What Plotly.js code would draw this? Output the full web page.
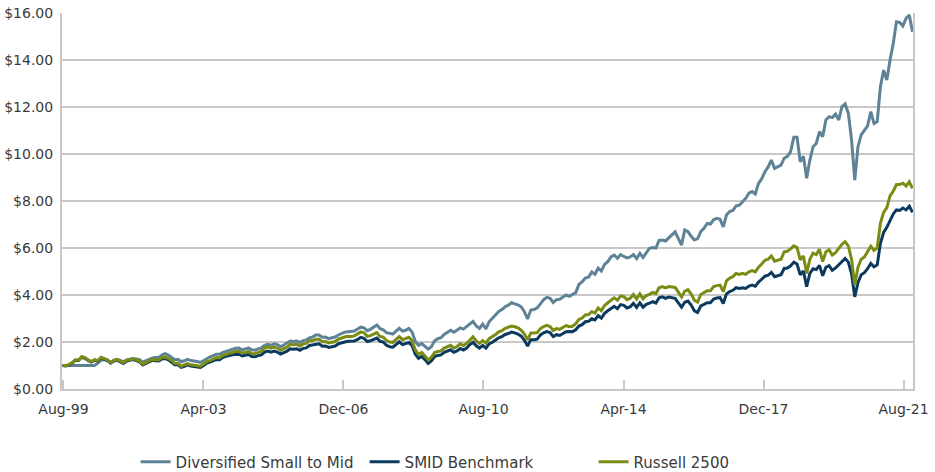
<!DOCTYPE html>
<html>
<head>
<meta charset="utf-8">
<script src="https://cdn.plot.ly/plotly-3.0.1.min.js"></script>
<style>
  html, body { margin: 0; padding: 0; background: #ffffff; }
  #chart { width: 935px; height: 472px; }
</style>
</head>
<body>
<div id="chart"></div>
<script>
// Monthly growth of $1, Aug-1999 through Sep-2021 (266 months)
const seriesNames = ["Diversified Small to Mid", "SMID Benchmark", "Russell 2500"];
const xTickLabels = ["Aug-99", "Apr-03", "Dec-06", "Aug-10", "Apr-14", "Dec-17", "Aug-21"];
const yTickValues = [0, 2, 4, 6, 8, 10, 12, 14, 16];

const diversified = [
  1.00, 1.00, 1.00, 1.00, 1.00,
  1.00, 1.00, 1.00, 1.00, 1.00, 1.00, 1.10, 1.22, 1.25, 1.22, 1.14, 1.22,
  1.26, 1.20, 1.16, 1.24, 1.28, 1.30, 1.28, 1.25, 1.14, 1.20, 1.27, 1.32,
  1.34, 1.34, 1.44, 1.50, 1.44, 1.36, 1.25, 1.26, 1.16, 1.20, 1.26, 1.21,
  1.20, 1.17, 1.13, 1.21, 1.32, 1.37, 1.42, 1.48, 1.48, 1.56, 1.60, 1.65,
  1.69, 1.73, 1.74, 1.67, 1.70, 1.75, 1.67, 1.65, 1.71, 1.75, 1.86, 1.90,
  1.86, 1.92, 1.89, 1.80, 1.87, 1.94, 2.04, 2.02, 2.04, 1.98, 2.06, 2.09,
  2.18, 2.22, 2.30, 2.30, 2.20, 2.21, 2.14, 2.18, 2.21, 2.30, 2.37, 2.42,
  2.44, 2.44, 2.47, 2.55, 2.63, 2.60, 2.48, 2.54, 2.62, 2.72, 2.57, 2.52,
  2.40, 2.36, 2.34, 2.46, 2.58, 2.46, 2.50, 2.58, 2.42, 2.02, 1.86, 1.93,
  1.82, 1.70, 1.80, 2.05, 2.14, 2.18, 2.32, 2.40, 2.50, 2.42, 2.50, 2.60,
  2.55, 2.66, 2.80, 2.88, 2.68, 2.58, 2.76, 2.56, 2.86, 3.02, 3.14, 3.30,
  3.38, 3.50, 3.57, 3.67, 3.62, 3.58, 3.50, 3.29, 2.98, 3.36, 3.38, 3.45,
  3.62, 3.80, 3.90, 3.86, 3.68, 3.80, 3.82, 3.92, 4.00, 3.94, 4.02, 4.10,
  4.45, 4.56, 4.72, 4.76, 4.98, 4.88, 5.14, 5.02, 5.30, 5.42, 5.62, 5.70,
  5.56, 5.72, 5.64, 5.58, 5.62, 5.72, 5.55, 5.77, 5.60, 5.82, 5.99, 6.02,
  6.00, 6.32, 6.34, 6.30, 6.44, 6.55, 6.69, 6.40, 6.13, 6.77, 6.70, 6.50,
  6.34, 6.40, 6.70, 6.84, 7.05, 7.02, 7.20, 7.26, 7.22, 6.90, 7.40, 7.55,
  7.60, 7.79, 7.82, 7.97, 8.11, 8.33, 8.40, 8.30, 8.75, 8.95, 9.25, 9.45,
  9.74, 9.39, 9.45, 9.53, 9.82, 9.90, 10.10, 10.71, 10.71, 9.67, 9.90, 8.97,
  9.74, 10.31, 10.45, 10.95, 10.74, 11.45, 11.59, 11.55, 11.70, 11.45, 12.01, 12.13,
  11.73, 10.60, 8.89, 10.31, 10.81, 11.00, 11.20, 11.80, 11.30, 11.38, 12.86, 13.57,
  13.15, 14.00, 14.70, 15.63, 15.60, 15.45, 15.77, 15.91, 15.20
];

const smidBenchmark = [
  1.00, 0.98, 1.02, 1.10, 1.22,
  1.21, 1.35, 1.31, 1.22, 1.15, 1.23, 1.19, 1.32, 1.27, 1.21, 1.10, 1.19,
  1.23, 1.15, 1.09, 1.19, 1.23, 1.25, 1.21, 1.16, 1.02, 1.08, 1.16, 1.22,
  1.20, 1.19, 1.28, 1.30, 1.24, 1.15, 1.03, 1.03, 0.92, 0.96, 1.03, 0.98,
  0.95, 0.92, 0.92, 1.00, 1.10, 1.14, 1.20, 1.26, 1.25, 1.35, 1.39, 1.43,
  1.46, 1.47, 1.48, 1.41, 1.43, 1.47, 1.38, 1.37, 1.42, 1.45, 1.57, 1.61,
  1.57, 1.61, 1.57, 1.49, 1.55, 1.61, 1.71, 1.69, 1.71, 1.65, 1.73, 1.75,
  1.85, 1.87, 1.92, 1.92, 1.82, 1.83, 1.77, 1.81, 1.83, 1.92, 1.97, 2.00,
  2.03, 2.02, 2.04, 2.11, 2.20, 2.16, 2.02, 2.05, 2.11, 2.17, 2.03, 2.00,
  1.86, 1.80, 1.78, 1.91, 2.01, 1.89, 1.93, 1.98, 1.84, 1.48, 1.31, 1.39,
  1.25, 1.09, 1.19, 1.38, 1.43, 1.45, 1.56, 1.61, 1.67, 1.56, 1.62, 1.72,
  1.66, 1.74, 1.89, 1.99, 1.84, 1.74, 1.85, 1.74, 1.92, 1.99, 2.08, 2.18,
  2.23, 2.32, 2.36, 2.42, 2.39, 2.34, 2.25, 2.07, 1.83, 2.10, 2.10, 2.12,
  2.30, 2.39, 2.44, 2.40, 2.23, 2.31, 2.28, 2.37, 2.44, 2.45, 2.44, 2.52,
  2.68, 2.74, 2.86, 2.88, 2.99, 2.94, 3.12, 3.02, 3.22, 3.33, 3.44, 3.52,
  3.42, 3.59, 3.56, 3.45, 3.50, 3.65, 3.47, 3.67, 3.48, 3.60, 3.65, 3.72,
  3.66, 3.88, 3.92, 3.86, 3.91, 3.89, 3.86, 3.66, 3.48, 3.69, 3.74, 3.57,
  3.33, 3.26, 3.54, 3.60, 3.67, 3.67, 3.83, 3.87, 3.89, 3.64, 4.05, 4.15,
  4.20, 4.31, 4.28, 4.31, 4.28, 4.38, 4.42, 4.37, 4.55, 4.67, 4.80, 4.84,
  4.96, 4.78, 4.82, 4.86, 5.13, 5.15, 5.24, 5.40, 5.32, 4.86, 5.02, 4.35,
  4.92, 5.12, 5.08, 5.26, 4.82, 5.18, 5.25, 5.05, 5.15, 5.28, 5.45, 5.56,
  5.40, 4.90, 3.92, 4.52, 4.86, 4.95, 5.12, 5.34, 5.20, 5.28, 6.20, 6.66,
  6.88, 7.20, 7.45, 7.62, 7.60, 7.70, 7.62, 7.78, 7.52
];

const russell2500 = [
  1.00, 0.99, 1.04, 1.12, 1.24,
  1.23, 1.38, 1.34, 1.24, 1.17, 1.25, 1.21, 1.35, 1.30, 1.24, 1.12, 1.22,
  1.26, 1.18, 1.12, 1.22, 1.26, 1.28, 1.24, 1.19, 1.06, 1.12, 1.20, 1.26,
  1.25, 1.24, 1.34, 1.36, 1.30, 1.21, 1.08, 1.08, 0.97, 1.01, 1.08, 1.03,
  1.00, 0.97, 0.97, 1.06, 1.17, 1.21, 1.28, 1.34, 1.33, 1.43, 1.48, 1.53,
  1.58, 1.60, 1.61, 1.53, 1.56, 1.60, 1.51, 1.50, 1.56, 1.60, 1.74, 1.79,
  1.74, 1.78, 1.74, 1.65, 1.72, 1.78, 1.90, 1.88, 1.90, 1.83, 1.92, 1.94,
  2.05, 2.06, 2.12, 2.12, 2.01, 2.02, 1.96, 2.00, 2.02, 2.12, 2.18, 2.21,
  2.24, 2.23, 2.26, 2.34, 2.43, 2.39, 2.24, 2.27, 2.34, 2.40, 2.24, 2.21,
  2.06, 2.00, 1.98, 2.12, 2.23, 2.10, 2.14, 2.20, 2.05, 1.66, 1.47, 1.56,
  1.41, 1.24, 1.35, 1.55, 1.60, 1.62, 1.74, 1.79, 1.86, 1.74, 1.81, 1.92,
  1.85, 1.94, 2.10, 2.22, 2.05, 1.94, 2.06, 1.95, 2.14, 2.22, 2.32, 2.43,
  2.48, 2.58, 2.62, 2.68, 2.65, 2.60, 2.51, 2.34, 2.09, 2.38, 2.38, 2.40,
  2.57, 2.66, 2.71, 2.66, 2.49, 2.57, 2.54, 2.63, 2.70, 2.65, 2.67, 2.78,
  2.96, 3.02, 3.15, 3.17, 3.29, 3.23, 3.45, 3.33, 3.55, 3.67, 3.79, 3.88,
  3.78, 3.96, 3.93, 3.80, 3.86, 4.02, 3.83, 4.05, 3.84, 3.98, 4.03, 4.11,
  4.06, 4.31, 4.36, 4.30, 4.36, 4.34, 4.32, 4.12, 3.92, 4.16, 4.23, 4.04,
  3.78, 3.70, 4.02, 4.10, 4.18, 4.18, 4.36, 4.40, 4.42, 4.14, 4.60, 4.72,
  4.78, 4.92, 4.88, 4.92, 4.88, 4.99, 5.04, 4.98, 5.18, 5.32, 5.48, 5.52,
  5.66, 5.44, 5.48, 5.52, 5.84, 5.86, 5.96, 6.09, 6.02, 5.50, 5.66, 4.92,
  5.52, 5.78, 5.72, 5.94, 5.42, 5.84, 5.92, 5.70, 5.80, 5.96, 6.16, 6.27,
  6.08, 5.52, 4.43, 5.18, 5.52, 5.62, 5.86, 6.08, 5.90, 6.00, 7.06, 7.52,
  7.72, 8.22, 8.42, 8.70, 8.70, 8.76, 8.64, 8.82, 8.54
];

// month index as x (0 = Aug-99)
const monthIndex = diversified.map((_, i) => i);
const tickPositions = xTickLabels.map((_, i) => 0.3 + i * 43.65);

const colors = ["#5e8296", "#0b3a5e", "#7b8c14"];
const values = [diversified, smidBenchmark, russell2500];

const traces = values.map((v, k) => ({
  type: "scatter",
  mode: "lines",
  name: seriesNames[k],
  x: monthIndex,
  y: v,
  line: { color: colors[k], width: 3 },
  hoverinfo: "skip"
}));

const gridColor = "#c8c8c8";
const font = { family: "DejaVu Sans, sans-serif", size: 14, color: "#3a3a3a" };

const layout = {
  width: 935,
  height: 472,
  margin: { l: 62, r: 22, t: 13, b: 83, autoexpand: false },
  paper_bgcolor: "#ffffff",
  plot_bgcolor: "#ffffff",
  font: font,
  showlegend: true,
  legend: {
    orientation: "h",
    x: 0.0865,
    xanchor: "left",
    y: -0.194,
    yanchor: "middle",
    font: { family: "DejaVu Sans, sans-serif", size: 15, color: "#3a3a3a" },
    entrywidth: 184,
    entrywidthmode: "pixels",
    tracegroupgap: 0,
    itemwidth: 30,
    bgcolor: "rgba(0,0,0,0)"
  },
  xaxis: {
    range: [-0.156, 265.156],
    tickmode: "array",
    tickvals: tickPositions,
    ticktext: xTickLabels,
    ticks: "inside",
    ticklen: 9,
    tickwidth: 2,
    tickcolor: gridColor,
    showgrid: false,
    zeroline: false,
    showline: true,
    linecolor: gridColor,
    linewidth: 2,
    mirror: false,
    ticklabelstandoff: 6,
    tickfont: font
  },
  yaxis: {
    range: [0, 16],
    tickmode: "array",
    tickvals: yTickValues,
    tickformat: "$.2f",
    ticks: "",
    showgrid: true,
    gridcolor: gridColor,
    gridwidth: 2,
    zeroline: false,
    showline: true,
    linecolor: gridColor,
    linewidth: 2,
    mirror: true,
    ticklabelstandoff: 4,
    tickfont: font
  }
};

Plotly.newPlot("chart", traces, layout, { staticPlot: true, displayModeBar: false });
</script>
</body>
</html>
